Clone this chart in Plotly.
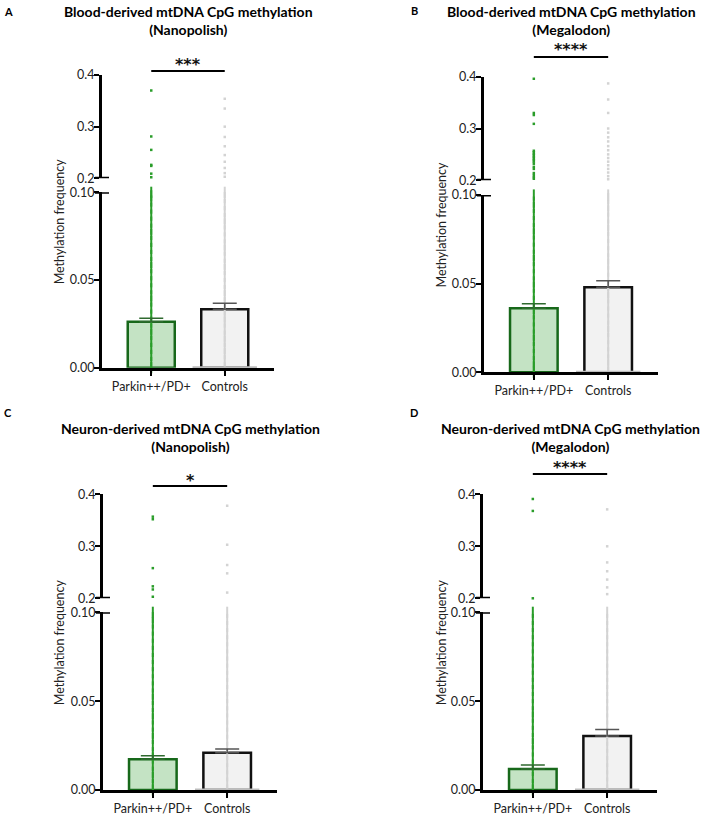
import plotly.graph_objects as go

W, H = 708, 815

# ---------------- data ----------------
categories = ["Parkin++/PD+", "Controls"]
panel_letters = ["A", "B", "C", "D"]
panel_titles = [
    "Blood-derived mtDNA CpG methylation<br>(Nanopolish)",
    "Blood-derived mtDNA CpG methylation<br>(Megalodon)",
    "Neuron-derived mtDNA CpG methylation<br>(Nanopolish)",
    "Neuron-derived mtDNA CpG methylation<br>(Megalodon)",
]
significance = ["***", "****", "*", "****"]
y_title = "Methylation frequency"

lower_ticks = [0.0, 0.05, 0.10]
lower_ticktext = ["0.00", "0.05", "0.10"]
upper_ticks = [0.2, 0.3, 0.4]
upper_ticktext = ["0.2", "0.3", "0.4"]

means_A = [0.0262, 0.0333]
sem_A = [0.0020, 0.0034]
means_B = [0.0361, 0.0479]
sem_B = [0.0026, 0.0038]
means_C = [0.0173, 0.0210]
sem_C = [0.0020, 0.0021]
means_D = [0.0118, 0.0304]
sem_D = [0.0023, 0.0037]

# individual CpG sites above the axis break (0.2 - 0.4)
upper_A_parkin = [0.370, 0.281, 0.255, 0.226, 0.224, 0.209, 0.202]
upper_A_ctrl = [0.354, 0.335, 0.300, 0.280, 0.262, 0.245, 0.232, 0.220, 0.210, 0.203]
upper_B_parkin = [0.396, 0.330, 0.326, 0.309, 0.257, 0.254, 0.251, 0.248, 0.245, 0.242,
                  0.239, 0.236, 0.232, 0.226, 0.222, 0.214, 0.210, 0.206, 0.203]
upper_B_ctrl = [0.387, 0.356, 0.330, 0.300, 0.292, 0.283, 0.275, 0.266, 0.258, 0.250,
                0.243, 0.236, 0.229, 0.222, 0.215, 0.208, 0.202]
upper_C_parkin = [0.357, 0.352, 0.258, 0.223, 0.217, 0.203]
upper_C_ctrl = [0.378, 0.303, 0.264, 0.248, 0.211]
upper_D_parkin = [0.391, 0.368, 0.200]
upper_D_ctrl = [0.371, 0.300, 0.269, 0.252, 0.236, 0.221, 0.208]

# dense CpG sites below the axis break (0 - 0.10)
lower_A_parkin = [0.000, 0.003, 0.007, 0.011, 0.015, 0.019, 0.022, 0.026, 0.030, 0.034, 0.038,
                  0.041, 0.045, 0.049, 0.053, 0.057, 0.060, 0.064, 0.068, 0.072, 0.076, 0.079,
                  0.083, 0.087, 0.091, 0.095, 0.098, 0.100]
lower_A_ctrl = [0.000, 0.004, 0.008, 0.011, 0.015, 0.018, 0.022, 0.026, 0.029, 0.033, 0.037,
                0.041, 0.044, 0.048, 0.052, 0.056, 0.059, 0.063, 0.067, 0.070, 0.074, 0.078,
                0.082, 0.085, 0.089, 0.093, 0.097, 0.100]
lower_B_parkin = [0.000, 0.003, 0.006, 0.010, 0.014, 0.018, 0.021, 0.025, 0.029, 0.033, 0.036,
                  0.040, 0.044, 0.048, 0.051, 0.055, 0.059, 0.063, 0.066, 0.070, 0.074, 0.078,
                  0.081, 0.085, 0.089, 0.093, 0.096, 0.100]
lower_B_ctrl = [0.000, 0.004, 0.007, 0.011, 0.015, 0.019, 0.023, 0.026, 0.030, 0.034, 0.038,
                0.042, 0.045, 0.049, 0.053, 0.057, 0.061, 0.064, 0.068, 0.072, 0.076, 0.080,
                0.083, 0.087, 0.091, 0.094, 0.098, 0.100]
lower_C_parkin = [0.000, 0.003, 0.007, 0.010, 0.014, 0.018, 0.021, 0.025, 0.029, 0.032, 0.036,
                  0.040, 0.043, 0.047, 0.051, 0.054, 0.058, 0.062, 0.066, 0.070, 0.074, 0.078,
                  0.082, 0.086, 0.090, 0.094, 0.097, 0.100]
lower_C_ctrl = [0.000, 0.004, 0.008, 0.012, 0.016, 0.020, 0.024, 0.028, 0.032, 0.036, 0.040,
                0.044, 0.048, 0.052, 0.056, 0.060, 0.064, 0.068, 0.072, 0.076, 0.080, 0.084,
                0.088, 0.092, 0.096, 0.100]
lower_D_parkin = [0.000, 0.003, 0.007, 0.011, 0.014, 0.018, 0.022, 0.026, 0.029, 0.033, 0.037,
                  0.041, 0.044, 0.048, 0.052, 0.056, 0.060, 0.064, 0.068, 0.072, 0.076, 0.080,
                  0.084, 0.088, 0.092, 0.096, 0.100]
lower_D_ctrl = [0.000, 0.004, 0.008, 0.012, 0.016, 0.020, 0.024, 0.028, 0.032, 0.036, 0.040,
                0.044, 0.048, 0.052, 0.056, 0.060, 0.064, 0.068, 0.072, 0.076, 0.080, 0.084,
                0.088, 0.092, 0.096, 0.100]

# many control sites sit exactly at zero
zero_ctrl = [0.0]

means = [means_A, means_B, means_C, means_D]
sems = [sem_A, sem_B, sem_C, sem_D]
uppers = [(upper_A_parkin, upper_A_ctrl), (upper_B_parkin, upper_B_ctrl),
          (upper_C_parkin, upper_C_ctrl), (upper_D_parkin, upper_D_ctrl)]
lowers = [(lower_A_parkin, lower_A_ctrl), (lower_B_parkin, lower_B_ctrl),
          (lower_C_parkin, lower_C_ctrl), (lower_D_parkin, lower_D_ctrl)]

# ---------------- layout geometry (pixels) ----------------
geom = [
    dict(x0=102, x1=274, low=(367.7, 192.3), up=(178.3, 75.0), sig=71, star=60,
         title=1, letter=(8, 11), ytx=59),
    dict(x0=484, x1=658, low=(372.3, 195.0), up=(180.3, 76.7), sig=57, star=45,
         title=1, letter=(414, 10), ytx=441),
    dict(x0=103, x1=277, low=(790.0, 612.3), up=(598.3, 494.3), sig=486, star=475,
         title=418, letter=(8, 413), ytx=59),
    dict(x0=483, x1=657, low=(790.0, 612.3), up=(598.3, 494.3), sig=474, star=462,
         title=418, letter=(414, 413), ytx=441),
]
XR = [-0.67, 1.67]

FONT = "Lato"
GREEN_FILL = "#c4e3c4"
GREEN_EDGE = "#17681a"
GREEN_PT = "#2a9d2a"
GREY_FILL = "#f2f2f2"
GREY_PT = "#d3d3d3"


def px(p):
    return p / W


def py(p):
    return 1 - p / H


fig = go.Figure()
layout = dict(
    width=W, height=H, margin=dict(l=0, r=0, t=0, b=0, pad=0), autosize=False,
    plot_bgcolor="white", paper_bgcolor="white", showlegend=False,
    font=dict(family=FONT, color="#222", size=12),
)
shapes = []
annotations = []

axis_common = dict(showline=True, linecolor="black", linewidth=3, ticks="outside",
                   ticklen=5, tickwidth=2, tickcolor="black", showgrid=False,
                   zeroline=False, automargin=False,
                   tickfont=dict(size=12.5, color="#222", family=FONT))

for i in range(4):
    g = geom[i]
    xa = "x" if i == 0 else f"x{i + 1}"
    yl = "y" if i == 0 else f"y{2 * i + 1}"
    yu = f"y{2 * i + 2}"
    xkey = "xaxis" if i == 0 else f"xaxis{i + 1}"
    ylkey = "yaxis" if i == 0 else f"yaxis{2 * i + 1}"
    yukey = f"yaxis{2 * i + 2}"

    layout[xkey] = dict(domain=[px(g["x0"]), px(g["x1"])], range=XR, anchor=yl,
                        type="linear", tickvals=[0, 1], ticktext=categories, **axis_common)
    layout[ylkey] = dict(domain=[py(g["low"][0]), py(g["low"][1])], range=[0, 0.1],
                         anchor=xa, tickvals=lower_ticks, ticktext=lower_ticktext,
                         ticklabelstandoff=-3, **axis_common)
    layout[yukey] = dict(domain=[py(g["up"][0]), py(g["up"][1])], range=[0.2, 0.4],
                         anchor=xa, tickvals=upper_ticks, ticktext=upper_ticktext,
                         ticklabelstandoff=-3, **axis_common)

    # bars
    fig.add_trace(go.Bar(
        x=[0, 1], y=means[i], width=0.64, xaxis=xa, yaxis=yl,
        marker=dict(color=[GREEN_FILL, GREY_FILL],
                    line=dict(color=[GREEN_EDGE, "#111111"], width=2.5)),
    ))
    up_p, up_c = uppers[i]
    lo_p, lo_c = lowers[i]
    # strips, lower segment
    fig.add_trace(go.Scatter(
        x=[1] * len(lo_c), y=lo_c, mode="markers", xaxis=xa, yaxis=yl, cliponaxis=False,
        marker=dict(symbol="line-ns", size=8, line=dict(width=2, color=GREY_PT)),
    ))
    fig.add_trace(go.Scatter(
        x=[1] * len(zero_ctrl), y=zero_ctrl, mode="markers", xaxis=xa, yaxis=yl,
        cliponaxis=False,
        marker=dict(symbol="line-ew", size=46, line=dict(width=3, color="#bdbdbd")),
    ))
    fig.add_trace(go.Scatter(
        x=[0] * len(lo_p), y=lo_p, mode="markers", xaxis=xa, yaxis=yl, cliponaxis=False,
        marker=dict(symbol="line-ns", size=8, line=dict(width=2, color=GREEN_PT)),
    ))
    # strips, upper segment
    fig.add_trace(go.Scatter(
        x=[1] * len(up_c), y=up_c, mode="markers", xaxis=xa, yaxis=yu, cliponaxis=False,
        marker=dict(symbol="square", size=2.5, color=GREY_PT, line=dict(width=0)),
    ))
    fig.add_trace(go.Scatter(
        x=[0] * len(up_p), y=up_p, mode="markers", xaxis=xa, yaxis=yu, cliponaxis=False,
        marker=dict(symbol="square", size=2.5, color=GREEN_PT, line=dict(width=0)),
    ))
    # error bars (mean + SEM) drawn above points
    for k, col in enumerate(["#2f6a2f", "#555555"]):
        fig.add_trace(go.Scatter(
            x=[k], y=[means[i][k]], mode="markers", xaxis=xa, yaxis=yl, cliponaxis=False,
            marker=dict(size=1, color="rgba(0,0,0,0)"),
            error_y=dict(type="data", symmetric=False, array=[sems[i][k]],
                         arrayminus=[0], color=col, thickness=1.5, width=12),
        ))

    # axis break caps
    for yref, yv in [(yu, 0.2), (yl, 0.10)]:
        shapes.append(dict(type="line", xref="paper", yref=yref,
                           x0=px(g["x0"] - 7), x1=px(g["x0"] + 7), y0=yv, y1=yv,
                           line=dict(color="black", width=3)))

    # significance bracket (category centres through the axis scale)
    def cat_px(c):
        return g["x0"] + (c - XR[0]) / (XR[1] - XR[0]) * (g["x1"] - g["x0"])
    shapes.append(dict(type="line", xref="paper", yref="paper",
                       x0=px(cat_px(0)), x1=px(cat_px(1)), y0=py(g["sig"]), y1=py(g["sig"]),
                       line=dict(color="black", width=2)))
    annotations.append(dict(
        text=f"<b>{significance[i]}</b>", xref="paper", yref="paper",
        x=px((cat_px(0) + cat_px(1)) / 2), y=py(g["star"] + 5), xanchor="center",
        yanchor="middle", showarrow=False,
        font=dict(size=16, color="#111", family="DejaVu Sans")))

    # title
    t1, t2 = panel_titles[i].split("<br>")
    annotations.append(dict(
        text=f"<b>{t1}</b><br><b>{t2}</b>",
        xref="paper", yref="paper", x=px((g["x0"] + g["x1"]) / 2), y=py(g["title"]),
        xanchor="center", yanchor="top", showarrow=False,
        font=dict(size=14, color="black", family=FONT)))
    # panel letter
    annotations.append(dict(
        text=f"<b>{panel_letters[i]}</b>", xref="paper", yref="paper",
        x=px(g["letter"][0]), y=py(g["letter"][1]), xanchor="center", yanchor="middle",
        showarrow=False, font=dict(size=11, color="black", family=FONT)))
    # y-axis title
    annotations.append(dict(
        text=y_title, xref="paper", yref="paper", textangle=-90,
        x=px(g["ytx"]), y=py((g["low"][0] + g["up"][1]) / 2), xanchor="center",
        yanchor="middle", showarrow=False, font=dict(size=12.5, color="#222", family=FONT)))

layout["shapes"] = shapes
layout["annotations"] = annotations
fig.update_layout(**layout)
# remove the browser's default 8 px body margin so the 708x815 figure fills the window
fig.write_html("out.html", config={"displayModeBar": False},
               post_script="document.body.style.margin='0px';")
